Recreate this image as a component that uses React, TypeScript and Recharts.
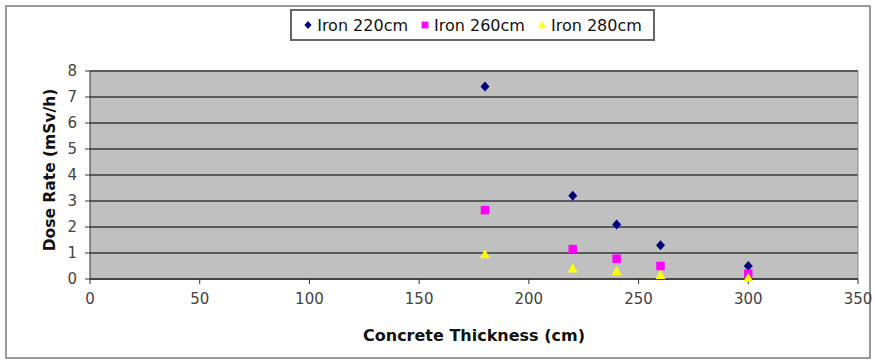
import { ScatterChart, Scatter, XAxis, YAxis, CartesianGrid, ReferenceLine } from 'recharts';

const thickness = [180, 220, 240, 260, 300];
const iron220 = [7.4, 3.2, 2.1, 1.3, 0.5];
const iron260 = [2.65, 1.15, 0.78, 0.5, 0.2];
const iron280 = [0.95, 0.4, 0.3, 0.15, 0.05];
const xTicks = [0, 50, 100, 150, 200, 250, 300, 350];
const yTicks = [0, 1, 2, 3, 4, 5, 6, 7, 8];

const toPoints = (vals: number[]) => thickness.map((x, i) => ({ x, y: vals[i] }));

const series = [
  { name: 'Iron 220cm', color: '#000080', shape: 'diamond', data: toPoints(iron220) },
  { name: 'Iron 260cm', color: '#ff00ff', shape: 'square', data: toPoints(iron260) },
  { name: 'Iron 280cm', color: '#ffff00', shape: 'triangle', data: toPoints(iron280) },
];

const FONT = '"DejaVu Sans", Verdana, sans-serif';

// r = half size of the marker
const Marker = ({ kind, cx, cy, color, r = 5 }: any) => {
  if (kind === 'diamond') {
    return <polygon points={`${cx},${cy - r} ${cx + r * 0.9},${cy} ${cx},${cy + r} ${cx - r * 0.9},${cy}`} fill={color} />;
  }
  if (kind === 'square') {
    return <rect x={cx - r * 0.85} y={cy - r * 0.85} width={r * 1.7} height={r * 1.7} fill={color} />;
  }
  return <polygon points={`${cx},${cy - r} ${cx + r},${cy + r * 0.8} ${cx - r},${cy + r * 0.8}`} fill={color} />;
};

export default function App() {
  return (
    <div style={{ position: 'absolute', left: 0, top: 0, width: 875, height: 364, background: '#fff', fontFamily: FONT }}>
      {/* outer chart frame */}
      <div style={{ position: 'absolute', left: 5, top: 5, width: 862, height: 350, border: '2px solid #9a9a9a' }} />

      {/* legend box */}
      <div
        style={{
          position: 'absolute', left: 290, top: 9, width: 361, height: 28, border: '2px solid #666',
          background: '#fff', display: 'flex', alignItems: 'center', justifyContent: 'center', gap: 12,
          fontSize: 16, color: '#111',
        }}
      >
        {series.map((s) => (
          <div key={s.name} style={{ display: 'flex', alignItems: 'center', gap: 4 }}>
            <svg width={10} height={10}>
              <Marker kind={s.shape} cx={5} cy={5} color={s.color} r={4} />
            </svg>
            <span>{s.name}</span>
          </div>
        ))}
      </div>

      <div style={{ position: 'absolute', left: 0, top: 0 }}>
        <ScatterChart width={875} height={364} margin={{ top: 71, right: 17, bottom: 15, left: 40 }}>
          <CartesianGrid fill="#c0c0c0" vertical={false} stroke="#5a5a5a" strokeWidth={2} />
          <XAxis
            type="number"
            dataKey="x"
            domain={[0, 350]}
            ticks={xTicks}
            height={70}
            stroke="#333"
            tickSize={5}
            tickMargin={9}
            tick={{ fill: '#444', fontSize: 15, fontFamily: FONT }}
            label={{ value: 'Concrete Thickness (cm)', position: 'insideBottom', offset: 8, fill: '#111', fontSize: 16, fontWeight: 'bold', fontFamily: FONT }}
          />
          <YAxis
            type="number"
            dataKey="y"
            domain={[0, 8]}
            ticks={yTicks}
            width={50}
            stroke="#333"
            tickSize={5}
            tickMargin={8}
            tick={{ fill: '#444', fontSize: 15, fontFamily: FONT }}
            label={{ value: 'Dose Rate (mSv/h)', angle: -90, position: 'insideLeft', offset: 0, dx: 9, dy: -5, fill: '#111', fontSize: 15.5, fontWeight: 'bold', fontFamily: FONT, style: { textAnchor: 'middle' } }}
          />
          <ReferenceLine x={350} stroke="#888" />
          {series.map((s) => (
            <Scatter
              key={s.name}
              name={s.name}
              data={s.data}
              isAnimationActive={false}
              shape={(p: any) => <Marker kind={s.shape} cx={p.cx} cy={p.cy} color={s.color} />}
            />
          ))}
        </ScatterChart>
      </div>
    </div>
  );
}
